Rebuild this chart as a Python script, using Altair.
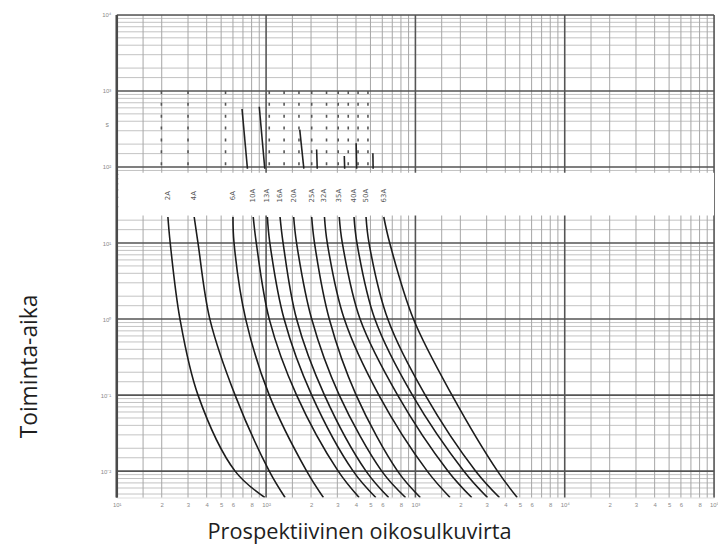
import altair as alt
import pandas as pd

# ---------------- data ----------------
ratings = ["2A", "4A", "6A", "10A", "13A", "16A", "20A", "25A", "32A", "35A", "40A", "50A", "63A"]
time_levels = [22, 10, 1, 0.1, 0.01, 0.0045]          # s
curve_currents = [                                     # A, one list per curve, at time_levels
    [22, 22.8, 26.5, 35, 62, 98],
    [33, 35, 42, 62, 105, 134],
    [60, 61, 73, 105, 187, 242],
    [82, 86, 105, 160, 304, 420],
    [102, 106, 132, 202, 383, 543],
    [124, 130, 160, 246, 467, 662],
    [153, 160, 202, 309, 595, 859],
    [202, 211, 265, 401, 760, 1079],
    [246, 257, 334, 569, 1200, 1706],
    [309, 324, 426, 760, 1655, 2384],
    [388, 406, 535, 955, 2113, 3041],
    [467, 489, 653, 1164, 2535, 3656],
    [614, 673, 970, 1758, 3548, 4808],
]
# short steep segments in the upper block (I_top, t_top, I_bottom, t_bottom)
upper_segments = [
    (69, 580, 75, 95),
    (90, 620, 98, 95),
    (168, 310, 179, 95),
    (218, 170, 220, 95),
    (334, 140, 336, 95),
    (401, 205, 404, 95),
    (519, 152, 521, 95),
]
# dotted columns of the rating table in the upper block
dotted_currents = [19.9, 30, 53.5, 105, 132, 166, 202, 254, 304, 355, 413, 481]
dotted_span = [1000, 90]
label_time = 42
band_times = [84, 23]

x_decades = [10, 100, 1000, 10000, 100000]
y_decades = [0.01, 0.1, 1, 10, 100, 1000, 10000]
minor_mult = [1.5, 2, 3, 4, 5, 6, 7, 8, 9]
x_label_mult = [1, 2, 3, 4, 5, 6, 8]

x_domain = [10, 100000]
y_domain = [0.0045, 10000]

# ---------------- tables ----------------
rows = []
for k, cur in enumerate(curve_currents):
    for I, t in zip(cur, time_levels):
        rows.append({"curve": k, "I": I, "t": t})
curves_df = pd.DataFrame(rows)

seg_rows = []
for k, (i1, t1, i2, t2) in enumerate(upper_segments):
    seg_rows.append({"seg": k, "I": i1, "t": t1})
    seg_rows.append({"seg": k, "I": i2, "t": t2})
seg_df = pd.DataFrame(seg_rows)

dot_rows = []
for k, I in enumerate(dotted_currents):
    dot_rows.append({"col": k, "I": I, "t": dotted_span[0]})
    dot_rows.append({"col": k, "I": I, "t": dotted_span[1]})
dot_df = pd.DataFrame(dot_rows)

labels_df = pd.DataFrame({"I": [c[0] for c in curve_currents], "t": [label_time] * len(ratings), "label": ratings})

x_minor = [d * m for d in x_decades[:-1] for m in minor_mult]
y_minor = [d * m for d in [0.001] + y_decades[:-1] for m in minor_mult if d * m >= y_domain[0]]
x_label_vals = [d * m for d in x_decades[:-1] for m in x_label_mult] + [x_decades[-1]]

xs = alt.Scale(type="log", domain=x_domain)
ys = alt.Scale(type="log", domain=y_domain)

W, H = 604, 488

x_label_expr = (
    "datum.value == 10 ? '10¹' : datum.value == 100 ? '10²' : datum.value == 1000 ? '10³' : "
    "datum.value == 10000 ? '10⁴' : datum.value == 100000 ? '10⁵' : "
    "format(datum.value / pow(10, floor(log(datum.value) / LN10 + 1e-9)), 'd')"
)
y_label_expr = (
    "datum.value == 0.01 ? '10⁻²' : datum.value == 0.1 ? '10⁻¹' : datum.value == 1 ? '10⁰' : "
    "datum.value == 10 ? '10¹' : datum.value == 100 ? '10²' : datum.value == 1000 ? '10³' : '10⁴'"
)

x_axis = alt.Axis(values=x_label_vals, labelExpr=x_label_expr, grid=False, ticks=False, domain=False,
                  labelFontSize=6, labelColor="#8a8a8a", labelPadding=4, labelFlush=False,
                  title="Prospektiivinen oikosulkuvirta", titleFont="Open Sans", titleFontSize=22,
                  titleFontWeight="normal", titleColor="#1e1e1e", titleX=245, titleY=34,
                  titleAlign="center", titleBaseline="middle")
y_axis = alt.Axis(values=y_decades, labelExpr=y_label_expr, grid=False, ticks=False, domain=False,
                  labelFontSize=6, labelColor="#8a8a8a", labelPadding=6, labelFlush=False,
                  title="Toiminta-aika", titleFont="Open Sans", titleFontSize=23,
                  titleFontWeight="normal", titleColor="#1e1e1e", titleX=-88, titleY=355,
                  titleAlign="center", titleBaseline="middle", titleAngle=270)

X = lambda f: alt.X(f, scale=xs, axis=x_axis)
Y = lambda f: alt.Y(f, scale=ys, axis=y_axis)

xminor_l = alt.Chart(pd.DataFrame({"I": x_minor})).mark_rule(color="#8e8e8e", strokeWidth=0.8).encode(x=X("I:Q"))
yminor_l = alt.Chart(pd.DataFrame({"t": y_minor})).mark_rule(color="#a8a8a8", strokeWidth=0.7).encode(y=Y("t:Q"))
xmajor_l = alt.Chart(pd.DataFrame({"I": x_decades})).mark_rule(color="#555555", strokeWidth=1.6).encode(x=X("I:Q"))
ymajor_l = alt.Chart(pd.DataFrame({"t": y_decades})).mark_rule(color="#555555", strokeWidth=1.6).encode(y=Y("t:Q"))
left_edge = alt.Chart(pd.DataFrame({"I": [x_domain[0]]})).mark_rule(color="#4a4a4a", strokeWidth=2.6).encode(x=X("I:Q"))

band = alt.Chart(pd.DataFrame({"t1": [band_times[0]], "t2": [band_times[1]]})).mark_rect(color="white").encode(
    y=Y("t1:Q"), y2="t2:Q", x=alt.value(2), x2=alt.value(W))

dots = alt.Chart(dot_df).mark_line(color="#555555", strokeWidth=1.6, strokeDash=[3, 9]).encode(
    x=X("I:Q"), y=Y("t:Q"), detail="col:N")
segs = alt.Chart(seg_df).mark_line(color="#222222", strokeWidth=1.6).encode(
    x=X("I:Q"), y=Y("t:Q"), detail="seg:N")
curves = alt.Chart(curves_df).mark_line(color="#1c1c1c", strokeWidth=1.6, interpolate="catmull-rom", clip=True).encode(
    x=X("I:Q"), y=Y("t:Q"), detail="curve:N", order="t:Q")
labels = alt.Chart(labels_df).mark_text(angle=270, fontSize=7, color="#555555", font="DejaVu Sans").encode(
    x=X("I:Q"), y=Y("t:Q"), text="label:N")
unit = alt.Chart(pd.DataFrame({"t": [360], "s": ["s"]})).mark_text(fontSize=7, color="#8a8a8a", align="right").encode(
    x=alt.value(-8), y=Y("t:Q"), text="s:N")

chart = alt.layer(xminor_l, yminor_l, xmajor_l, ymajor_l, band, dots, segs, curves, labels, unit, left_edge).properties(
    width=W, height=H,
    autosize=alt.AutoSizeParams(type="none"),
    padding={"left": 110, "top": 4, "right": 4, "bottom": 45},
).configure_view(stroke="#5a5a5a", strokeWidth=1.2).configure(background="white")

chart.save("out.html", embed_options={"renderer": "svg", "actions": False})
